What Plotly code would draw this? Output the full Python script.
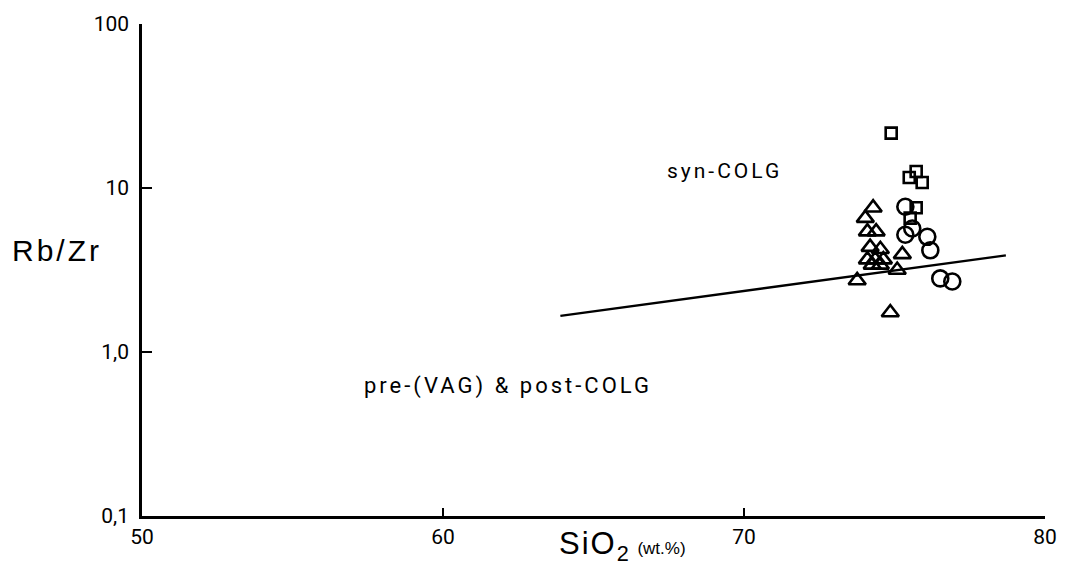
import plotly.graph_objects as go

# ---- data ----
tri_sio2 = [74.29, 74.03, 74.10, 74.39, 74.19, 74.53, 74.10, 74.36, 74.63, 74.26, 74.53, 75.26, 75.09, 73.76, 74.86]
tri_rbzr = [7.58, 6.55, 5.42, 5.42, 4.36, 4.23, 3.66, 3.66, 3.66, 3.40, 3.40, 3.94, 3.16, 2.73, 1.74]

sq_sio2 = [74.89, 75.49, 75.72, 75.92, 75.72, 75.52]
sq_rbzr = [21.6, 11.6, 12.6, 10.8, 7.58, 6.55]

ci_sio2 = [75.36, 75.36, 75.59, 76.09, 76.19, 76.52, 76.92]
ci_rbzr = [7.69, 5.19, 5.66, 5.04, 4.17, 2.81, 2.69]

bound_sio2 = [63.9, 78.7]
bound_rbzr = [1.66, 3.88]

x_ticks = [50, 60, 70, 80]
x_ticktext = ["50", "60", "70", "80"]
y_ticks = [0.1, 1, 10, 100]
y_ticktext = ["0,1", "1,0", "10", "100"]

TICKFONT = "Roboto, Liberation Sans, Arial, sans-serif"
LABELFONT = "Liberation Sans, Arial, Helvetica, sans-serif"

fig = go.Figure()

fig.add_trace(go.Scatter(
    x=bound_sio2, y=bound_rbzr, mode="lines",
    line=dict(color="black", width=2.4), showlegend=False, hoverinfo="skip"))

fig.add_trace(go.Scatter(
    x=tri_sio2, y=tri_rbzr, mode="markers", showlegend=False,
    marker=dict(symbol="triangle-up-open", size=15, color="black",
                line=dict(color="black", width=2.6))))

fig.add_trace(go.Scatter(
    x=sq_sio2, y=sq_rbzr, mode="markers", showlegend=False,
    marker=dict(symbol="square-open", size=11, color="black",
                line=dict(color="black", width=2.6))))

fig.add_trace(go.Scatter(
    x=ci_sio2, y=ci_rbzr, mode="markers", showlegend=False,
    marker=dict(symbol="circle-open", size=16, color="black",
                line=dict(color="black", width=2.6))))

def spaced(t, px):
    return "<span style='letter-spacing:%dpx'>%s</span>" % (px, t)

annots = [
    dict(text=spaced("syn-COLG", 3), x=0.645, y=0.702, size=21),
    dict(text=spaced("pre-(VAG) &amp; post-COLG", 3), x=0.405, y=0.264, size=22),
]
for a in annots:
    fig.add_annotation(text=a["text"], xref="paper", yref="paper", x=a["x"], y=a["y"],
                       xanchor="center", yanchor="middle", showarrow=False,
                       font=dict(family=TICKFONT, size=a["size"], color="black"))

fig.add_annotation(text=spaced("Rb/Zr", 3), xref="paper", yref="paper", x=-0.094, y=0.54,
                   xanchor="center", yanchor="middle", showarrow=False,
                   font=dict(family=LABELFONT, size=30, color="black"))
fig.add_annotation(text=spaced("SiO", 2) + "<sub>2</sub> <span style='font-size:17px'>(wt.%)</span>",
                   xref="paper", yref="paper", x=0.532, y=-0.06,
                   xanchor="center", yanchor="middle", showarrow=False,
                   font=dict(family=LABELFONT, size=31, color="black"))

fig.update_xaxes(range=[50, 80], tickvals=x_ticks, ticktext=x_ticktext,
                 showgrid=False, zeroline=False, showline=True, linecolor="black", linewidth=2.5,
                 ticks="inside", ticklen=8, tickwidth=2, tickcolor="black",
                 tickfont=dict(family=TICKFONT, size=21, color="black"))
fig.update_yaxes(type="log", range=[-1, 2], tickvals=y_ticks, ticktext=y_ticktext,
                 showgrid=False, zeroline=False, showline=True, linecolor="black", linewidth=2.5,
                 ticks="inside", ticklen=10, tickwidth=2, tickcolor="black",
                 ticklabelstandoff=6,
                 tickfont=dict(family=TICKFONT, size=21, color="black"))

fig.update_layout(width=1069, height=565, margin=dict(l=142, r=24, t=20, b=49),
                  plot_bgcolor="white", paper_bgcolor="white")

fig.write_html("out.html", config={"displayModeBar": False},
               post_script="document.body.style.margin='0';document.body.style.overflow='hidden';")
